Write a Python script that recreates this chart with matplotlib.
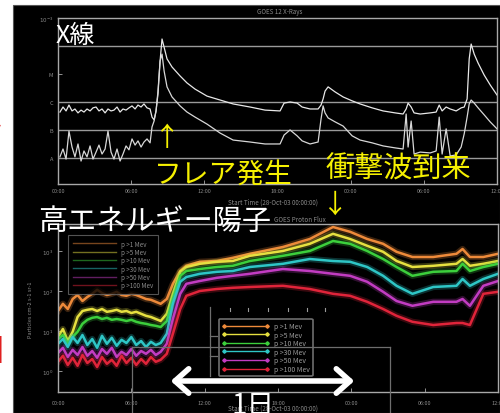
import numpy as np
import matplotlib
matplotlib.use("Agg")
import matplotlib.pyplot as plt
from matplotlib.lines import Line2D
from matplotlib.patches import Rectangle, FancyArrowPatch

plt.rcParams["font.family"] = ["Noto Sans CJK JP", "DejaVu Sans"]

# GOES X-ray flux: hours from start, log10 flux [W/m2]
xray_t = [0.16, 0.41, 0.66, 0.90, 1.15, 1.39, 1.64, 1.89, 2.13, 2.38,
          2.63, 2.87, 3.12, 3.36, 3.61, 3.86, 4.10, 4.35, 4.59, 4.84,
          5.09, 5.33, 5.58, 5.82, 6.07, 6.32, 6.56, 6.81, 7.05, 7.30, 7.55,
          7.71, 7.88, 8.04, 8.20, 8.37, 8.53, 8.70,
          8.94, 9.35, 10.01, 10.58, 11.24, 12.22, 13.29, 14.36, 15.75, 16.98, 18.21,
          18.54, 19.03, 19.61, 20.02, 20.67, 21.33, 21.57, 21.74, 21.90, 22.15,
          22.72, 23.38, 24.12, 24.77, 25.76, 26.66, 27.65,
          28.30, 28.55, 28.71, 28.96, 29.20, 29.70, 30.52,
          31.01, 31.26, 31.50, 31.83, 32.16, 32.65, 33.06, 33.31, 33.55, 33.72,
          33.88, 34.13, 34.45, 34.95, 35.44, 36.0]
xray_long = [-6.36, -6.18, -6.32, -6.11, -6.32, -6.25, -6.39, -6.29, -6.36, -6.25,
             -6.32, -6.21, -6.18, -6.32, -6.25, -6.39, -6.25, -6.32, -6.29, -6.18,
             -6.36, -6.25, -6.29, -6.21, -6.14, -6.25, -6.11, -6.18, -6.07, -6.21, -6.25,
             -6.54, -6.64, -6.32, -5.71, -4.54, -3.75, -4.04,
             -4.46, -4.75, -5.07, -5.32, -5.54, -5.79, -5.93, -6.07, -6.18, -6.29, -6.32,
             -6.04, -6.00, -6.04, -6.18, -6.25, -6.25, -6.11, -5.89, -5.61, -5.46,
             -5.64, -5.82, -5.96, -6.07, -6.21, -6.32, -6.39,
             -6.43, -6.25, -6.04, -6.18, -6.39, -6.43, -6.39,
             -6.36, -6.11, -6.32, -6.18, -6.25, -6.32, -6.21, -6.18, -5.89, -4.46,
             -3.93, -4.29, -4.61, -5.04, -5.39, -5.75]
xray_short = [-7.96, -7.68, -8.04, -7.04, -7.61, -7.96, -7.50, -8.11, -7.75, -7.96,
              -7.57, -8.04, -7.79, -7.54, -7.86, -7.68, -7.04, -7.79, -8.04, -7.68,
              -8.11, -7.86, -7.57, -7.71, -7.32, -7.54, -7.39, -7.61, -7.43, -7.32, -7.46,
              -6.89, -6.68, -6.32, -5.61, -4.54, -4.29, -4.89,
              -5.46, -5.82, -6.14, -6.36, -6.54, -6.79, -7.11, -7.36, -7.43, -7.50, -7.50,
              -7.18, -7.00, -7.21, -7.39, -7.50, -7.43, -6.61, -6.14, -6.39, -6.57,
              -6.71, -6.86, -7.21, -7.36, -7.46, -7.57, -7.64,
              -7.68, -6.43, -7.61, -6.68, -7.86, -7.79, -7.82,
              -7.75, -6.54, -7.86, -6.96, -7.93, -7.89, -7.61, -7.14, -6.54, -6.07,
              -5.93, -6.04, -6.21, -6.46, -6.71, -6.96]
xray_grid = [-4, -6, -7, -8]
xray_yticks = [-3, -5, -6, -7, -8]
xray_ylabels = ["$10^{-3}$", "M", "C", "B", "A"]

time_ticks = [0, 6, 12, 18, 24, 30, 36]
time_labels = ["00:00", "06:00", "12:00", "18:00", "00:00", "06:00", "12:00"]

# GOES proton flux: hours from start, log10 flux [pfu]
p_t = [0, 0.4, 0.8, 1.2, 1.6, 2.0, 2.4, 2.8, 3.2, 3.6, 4.0,
       4.4, 4.8, 5.2, 5.6, 6.0, 6.4, 6.8, 7.2, 7.6, 8.0, 8.4,
       8.9, 9.4, 10.0, 10.5, 11.6, 13.0, 14.3, 15.7, 18.4, 20.6, 22.5,
       23.9, 25.3, 26.6, 27.7, 29.0, 30.7, 32.6, 33.1, 33.7, 34.8, 36.0]
p_gt1 = [1.50, 1.68, 1.55, 1.80, 1.90, 1.75, 1.85, 1.93, 2.03, 1.95, 1.90,
         1.93, 1.98, 1.90, 1.88, 1.93, 1.90, 1.85, 1.80, 1.78, 1.73, 1.68,
         1.80, 2.18, 2.50, 2.63, 2.73, 2.75, 2.83, 2.93, 3.10, 3.30, 3.60,
         3.48, 3.30, 3.18, 2.98, 2.85, 2.85, 2.93, 3.05, 2.85, 2.85, 2.93]
p_gt5 = [0.85, 1.05, 0.75, 0.98, 1.35, 1.50, 1.53, 1.55, 1.50, 1.55, 1.48,
         1.50, 1.53, 1.48, 1.50, 1.45, 1.48, 1.43, 1.38, 1.35, 1.30, 1.25,
         1.43, 1.93, 2.48, 2.60, 2.68, 2.73, 2.75, 2.88, 3.00, 3.18, 3.43,
         3.30, 3.13, 2.98, 2.75, 2.60, 2.63, 2.68, 2.80, 2.63, 2.68, 2.75]
p_gt10 = [0.80, 0.90, 0.70, 0.85, 0.98, 1.18, 1.28, 1.33, 1.35, 1.30, 1.33,
          1.28, 1.30, 1.28, 1.25, 1.28, 1.23, 1.20, 1.18, 1.15, 1.13, 1.10,
          1.25, 1.80, 2.38, 2.50, 2.55, 2.60, 2.63, 2.75, 2.88, 3.00, 3.25,
          3.18, 3.00, 2.80, 2.60, 2.38, 2.48, 2.50, 2.68, 2.50, 2.60, 2.68]
p_gt30 = [0.68, 0.80, 0.60, 0.85, 0.70, 0.90, 0.65, 0.80, 0.58, 0.88, 0.68,
          0.83, 0.63, 0.78, 0.70, 0.85, 0.65, 0.75, 0.60, 0.73, 0.65, 0.70,
          0.93, 1.68, 2.23, 2.35, 2.43, 2.48, 2.50, 2.60, 2.68, 2.80, 2.75,
          2.73, 2.60, 2.38, 2.13, 1.93, 2.10, 2.13, 2.30, 2.13, 2.30, 2.43]
p_gt50 = [0.45, 0.58, 0.35, 0.53, 0.40, 0.60, 0.38, 0.50, 0.33, 0.55, 0.43,
          0.58, 0.35, 0.48, 0.40, 0.55, 0.38, 0.50, 0.43, 0.53, 0.40, 0.48,
          0.68, 1.30, 1.93, 2.18, 2.25, 2.33, 2.38, 2.43, 2.55, 2.50, 2.43,
          2.38, 2.23, 1.98, 1.75, 1.63, 1.73, 1.73, 1.80, 1.63, 2.13, 2.25]
p_gt100 = [0.23, 0.38, 0.15, 0.33, 0.13, 0.40, 0.20, 0.30, 0.10, 0.35, 0.18,
           0.28, 0.13, 0.38, 0.20, 0.33, 0.15, 0.30, 0.18, 0.35, 0.23, 0.28,
           0.43, 0.93, 1.55, 1.88, 2.00, 2.05, 2.08, 2.10, 2.13, 2.05, 1.93,
           1.88, 1.73, 1.55, 1.38, 1.23, 1.15, 1.20, 1.20, 1.15, 1.93, 1.98]
p_labels = ["p >1 Mev", "p >5 Mev", "p >10 Mev", "p >30 Mev", "p >50 Mev", "p >100 Mev"]
p_colors = ["#ee8a3a", "#e6e040", "#3ccf3c", "#2ec6c6", "#c23cc2", "#e0243a"]
p_yticks = [0, 1, 2, 3]
p_ylabels = ["$10^{0}$", "$10^{1}$", "$10^{2}$", "$10^{3}$"]

W, H = 500, 414
def fx(x):
    return x / W
def fy(y):
    return 1 - y / H

faint = "#8a8a8a"
frame = "#a8a8a8"

fig = plt.figure(figsize=(5.0, 4.14), dpi=100)
fig.patch.set_facecolor("white")
fig.add_artist(Rectangle((fx(13), 0), 1 - fx(13), fy(6), transform=fig.transFigure,
                         facecolor="black", edgecolor="#555555", lw=0.8, zorder=-5))

def style(ax):
    ax.set_facecolor("none")
    for s in ax.spines.values():
        s.set_color(frame)
        s.set_linewidth(1.0)
    ax.tick_params(which="both", direction="in", colors=frame, labelcolor=faint,
                   labelsize=4, length=3, width=0.6)
    ax.minorticks_off()

# X-ray panel
ax1 = fig.add_axes([fx(58), fy(185), fx(497) - fx(58), fy(19) - fy(185)])
style(ax1)
ax1.set_yscale("log")
for g in xray_grid:
    ax1.axhline(10.0 ** g, color="#9a9a9a", lw=1.0)
ax1.plot(xray_t, 10 ** np.array(xray_long), color="#e8e8e8", lw=0.9)
ax1.plot(xray_t, 10 ** np.array(xray_short), color="#d8d8d8", lw=0.9)
ax1.set_xlim(0, 36)
ax1.set_ylim(10 ** -8.93, 1e-3)
ax1.set_xticks(time_ticks)
ax1.set_xticklabels(time_labels)
ax1.set_yticks([10.0 ** v for v in xray_yticks])
ax1.set_yticklabels(xray_ylabels)
ax1.minorticks_off()
ax1.tick_params(axis="x", pad=3)

# Proton panel
ax2 = fig.add_axes([fx(58), fy(393), fx(498) - fx(58), fy(225) - fy(393)])
style(ax2)
ax2.set_yscale("log")
series = [p_gt1, p_gt5, p_gt10, p_gt30, p_gt50, p_gt100]
for vals, c in zip(series, p_colors):
    y = 10 ** np.array(vals)
    ax2.plot(p_t, y, color=c, lw=4.5, alpha=0.25)
    ax2.plot(p_t, y, color=c, lw=1.8)
ax2.set_xlim(0, 36)
ax2.set_ylim(10 ** -0.525, 10 ** 3.675)
ax2.set_xticks(time_ticks)
ax2.set_xticklabels(time_labels)
ax2.set_yticks([10.0 ** v for v in p_yticks])
ax2.set_yticklabels(p_ylabels)
ax2.minorticks_off()
ax2.tick_params(axis="x", pad=6)

pale = [Line2D([], [], color=c, lw=1.0, alpha=0.5) for c in p_colors]
leg1 = ax2.legend(pale, p_labels, loc="upper left", bbox_to_anchor=(0.016, 0.955),
                  fontsize=4.5, labelspacing=0.05, handlelength=6.8, handletextpad=0.8,
                  borderpad=0.8, frameon=True, fancybox=False, labelcolor=faint)
leg1.get_frame().set_facecolor("black")
leg1.get_frame().set_edgecolor("#6a6a6a")
leg1.get_frame().set_linewidth(0.8)
ax2.add_artist(leg1)

arrows = [Line2D([], [], color=c, lw=1.0, marker="D", ms=1.8) for c in p_colors]
leg2 = ax2.legend(arrows, p_labels, loc="upper left", bbox_to_anchor=(0.357, 0.455),
                  fontsize=5, numpoints=2, labelspacing=0.08, handlelength=6.8,
                  handletextpad=0.7, borderpad=0.45, frameon=True, fancybox=True,
                  labelcolor="#9a9a9a")
leg2.get_frame().set_facecolor("black")
leg2.get_frame().set_edgecolor("#8a8a8a")
leg2.get_frame().set_linewidth(1.2)

# overlay outline pieces
for xs, ys in [([132, 390], [348, 348]), ([132, 132], [348, 414]),
               ([390, 390], [348, 414]), ([210, 210], [308, 377]),
               ([210, 217], [337, 337]), ([210, 217], [357, 357])]:
    fig.add_artist(Line2D([fx(v) for v in xs], [fy(v) for v in ys],
                          transform=fig.transFigure, color="#6e6e6e", lw=0.9))
for xv in [230, 248, 268, 288, 307, 325]:
    fig.add_artist(Line2D([fx(xv), fx(xv)], [fy(309), fy(312)],
                          transform=fig.transFigure, color="#9a9a9a", lw=0.8))

# faint plot captions
fig.text(fx(280), fy(12), "GOES 12 X-Rays", color=faint, fontsize=4.5,
         ha="center", va="center")
fig.text(fx(273), fy(203), "Start Time (28-Oct-03 00:00:00)", color=faint,
         fontsize=4.5, ha="center", va="center")
fig.text(fx(300), fy(220), "GOES Proton Flux", color=faint, fontsize=4.5,
         ha="center", va="center")
fig.text(fx(273), fy(409), "Start Time (28-Oct-03 00:00:00)", color=faint,
         fontsize=4.5, ha="center", va="center")
fig.text(fx(30), fy(310), "Particles cm-2 s-1 sr-1", color=faint, fontsize=4,
         rotation=90, ha="center", va="center")

# Japanese annotations
fig.text(fx(75), fy(36), "X線", color="white", fontsize=18, ha="center", va="center")
fig.text(fx(167), fy(139), "↑", color="#f5f000", fontsize=19, ha="center", va="center")
fig.text(fx(223), fy(175), "フレア発生", color="#f5f000", fontsize=20,
         ha="center", va="center")
fig.text(fx(398), fy(170), "衝撃波到来", color="#f5f000", fontsize=21,
         ha="center", va="center")
fig.text(fx(335), fy(205), "↓", color="#f5f000", fontsize=19, ha="center", va="center")
fig.text(fx(155), fy(222), "高エネルギー陽子", color="white", fontsize=21,
         ha="center", va="center")
fig.text(fx(253), fy(406), "1日", color="white", fontsize=20, ha="center", va="center")
fig.add_artist(FancyArrowPatch((fx(168), fy(382)), (fx(357), fy(382)),
                               transform=fig.transFigure,
                               arrowstyle="<->,head_length=0.45,head_width=0.4",
                               mutation_scale=22, color="white", lw=4))

# red fragments of neighbouring slide text
fig.text(fx(7), fy(140), "ノ", color="#e02020", fontsize=24, ha="right", va="center")
fig.text(fx(4), fy(353), "I", color="#e02020", fontsize=27, ha="right", va="center",
         family="DejaVu Sans", weight="bold")

fig.savefig("out.png", dpi=100)
